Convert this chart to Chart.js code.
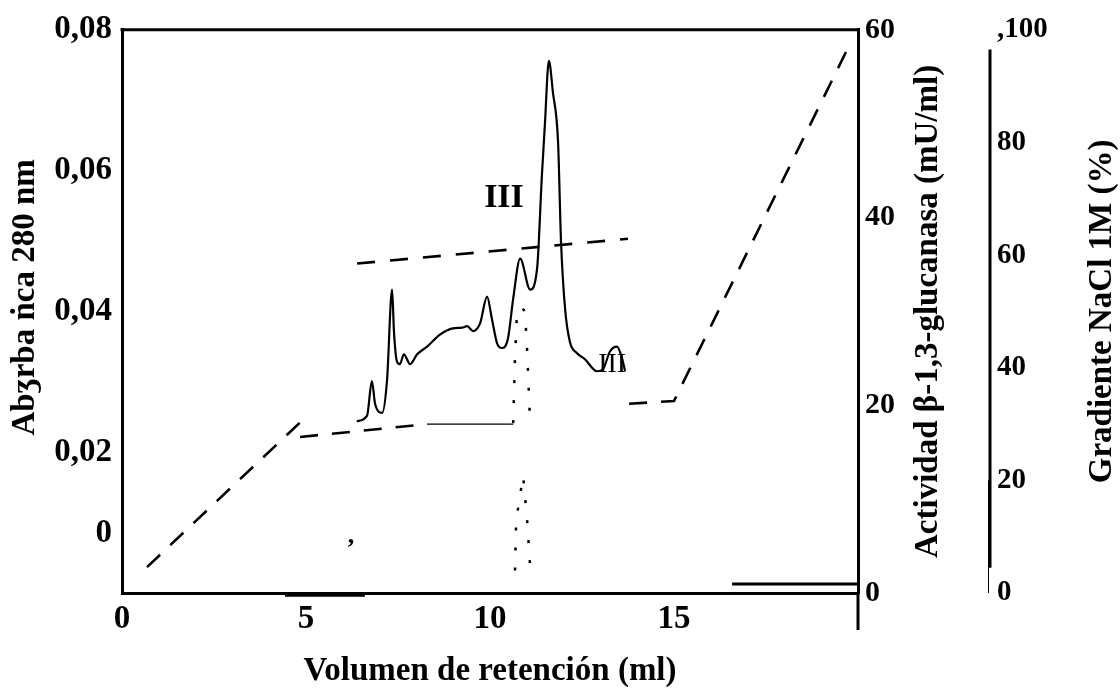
<!DOCTYPE html>
<html>
<head>
<meta charset="utf-8">
<script src="https://cdn.jsdelivr.net/npm/chart.js@4.4.1/dist/chart.umd.min.js"></script>
<style>
  html, body { margin: 0; padding: 0; background: #fff; }
  #wrap { width: 1120px; height: 691px; }
</style>
</head>
<body>
<div id="wrap"><canvas id="c" width="1120" height="691"></canvas></div>
<script>
// ── Absorbancia 280 nm (línea continua) ──
var absX = [6.38, 6.66, 6.79, 6.88, 7.07, 7.20, 7.34, 7.39, 7.47, 7.55, 7.66, 7.83, 8.02, 8.29, 8.64, 8.99, 9.24, 9.38, 9.54, 9.73,
            9.92, 10.05, 10.19, 10.33, 10.49, 10.63, 10.82, 11.09, 11.28, 11.41, 11.49, 11.60, 11.71, 11.85, 11.93, 12.04, 12.17,
            12.36, 12.58, 12.91, 13.07, 13.26, 13.45, 13.59, 13.67];
var absY = [0.0244, 0.0252, 0.0301, 0.0268, 0.0256, 0.0301, 0.0431, 0.0372, 0.0329, 0.0325, 0.0339, 0.0325, 0.0339, 0.0350, 0.0367,
            0.0376, 0.0377, 0.0379, 0.0372, 0.0383, 0.0421, 0.0390, 0.0355, 0.0348, 0.0362, 0.0418, 0.0475, 0.0431, 0.0461, 0.0593,
            0.0664, 0.0756, 0.0711, 0.0640, 0.0499, 0.0404, 0.0357, 0.0341, 0.0332, 0.0315, 0.0318, 0.0343, 0.0350, 0.0333, 0.0315];

// ── Actividad β-1,3-glucanasa (punteada) ──
var actX = [10.68, 10.71, 10.90, 11.01, 11.09, 10.90, 10.63, 10.68, 10.73, 10.84, 10.95, 11.01, 11.09];
var actY = [2.4, 7.7, 12.5, 7.7, 2.8, null, 18.1, 25.2, 29.5, 30.5, 30.0, 25.8, 18.1];

// ── Gradiente NaCl 1M (discontinua) ──
var diagX = [0.68, 4.89];
var diagY = [4.6, 30.6];
var gradX = [4.84, 8.29, 10.63, 12.3, 13.78, 15.0, 19.73];
var gradY = [27.7, 30.0, 30.0, null, 33.6, 34.1, 96.8];
var upperX = [6.39, 13.75];
var upperY = [58.5, 62.9];

// trazos sueltos del original
var trazoX = [16.58, 20, 18, 4.43, 6.6];
var trazoY = [0.95, 0.95, null, -0.25, -0.25];

// ── ejes ──
var xTickVals = [0, 5, 10, 15];
var yTickVals = [0.0085, 0.02, 0.04, 0.06, 0.08];
var yTickLabels = ["0", "0,02", "0,04", "0,06", "0,08"];
var actTickVals = [0, 20, 40, 60];
var gradTickVals = [0, 20, 40, 60, 80, 100];
var gradTickLabels = ["0", "20", "40", "60", "80", ",100"];

function pts(xs, ys) {
  return xs.map(function(x, i) { return { x: x, y: ys[i] }; });
}

var FONT = '"Liberation Serif", "Times New Roman", serif';

var sideTitles = [
  { axis: "y",  text: "Abʒrba ṅca 280 nm",                   dx: 25,  dy: -14 },
  { axis: "y2", text: "Actividad β-1,3-glucanasa (mU/ml)",   dx: 70,  dy: 0 },
  { axis: "y3", text: "Gradiente NaCl 1M (%)",               dx: 112, dy: 0 }
];
var peakLabels = [
  { text: "III", x: 10.38, y: 0.0561, font: "bold 34px " + FONT },
  { text: "III", x: 13.32, y: 0.0324, font: "28px " + FONT },
  { text: ",",   x: 6.22,  y: 0.0080, font: "bold 26px " + FONT }
];

var decoPlugin = {
  id: "deco",
  afterDatasetsDraw: function(chart) {
    var ctx = chart.ctx, a = chart.chartArea, s = chart.scales;
    ctx.save();
    ctx.strokeStyle = "#000";
    ctx.lineWidth = 3;
    // marco superior
    ctx.beginPath(); ctx.moveTo(a.left - 1.5, a.top); ctx.lineTo(a.right + 1.5, a.top); ctx.stroke();
    // prolongación del eje derecho
    ctx.beginPath(); ctx.moveTo(s.y2.left, a.bottom); ctx.lineTo(s.y2.left, a.bottom + 37); ctx.stroke();
    // eje del gradiente
    var gx = s.y3.left;
    ctx.beginPath(); ctx.moveTo(gx, s.y3.getPixelForValue(96.5)); ctx.lineTo(gx, s.y3.getPixelForValue(4.5)); ctx.stroke();
    ctx.lineWidth = 1;
    ctx.beginPath(); ctx.moveTo(gx - 1.5, s.y3.getPixelForValue(20)); ctx.lineTo(gx - 1.5, a.bottom); ctx.stroke();

    ctx.fillStyle = "#000";
    ctx.textAlign = "center";
    ctx.textBaseline = "middle";
    ctx.font = "bold 33px " + FONT;
    sideTitles.forEach(function(t) {
      ctx.save();
      ctx.translate(s[t.axis].left + t.dx, (a.top + a.bottom) / 2 + t.dy);
      ctx.rotate(-Math.PI / 2);
      ctx.fillText(t.text, 0, 0);
      ctx.restore();
    });
    peakLabels.forEach(function(p) {
      ctx.font = p.font;
      ctx.fillText(p.text, s.x.getPixelForValue(p.x), s.y.getPixelForValue(p.y));
    });
    ctx.restore();
  }
};

new Chart(document.getElementById("c"), {
  type: "line",
  data: {
    datasets: [
      { data: pts(absX, absY), yAxisID: "y", borderColor: "#000", borderWidth: 2.2, cubicInterpolationMode: "monotone" },
      { data: pts(diagX, diagY), yAxisID: "y3", borderColor: "#000", borderWidth: 2.6, borderDash: [18, 14] },
      { data: pts(gradX, gradY), yAxisID: "y3", borderColor: "#000", borderWidth: 2.6, borderDash: [18, 14],
        segment: {
          borderDash: function(c) { return (c.p0.parsed.x >= 8.2 && c.p1.parsed.x <= 10.7) ? [] : undefined; },
          borderWidth: function(c) { return (c.p0.parsed.x >= 8.2 && c.p1.parsed.x <= 10.7) ? 1.2 : undefined; }
        } },
      { data: pts(upperX, upperY), yAxisID: "y3", borderColor: "#000", borderWidth: 2.6, borderDash: [18, 15] },
      { data: pts(actX, actY), yAxisID: "y2", borderColor: "#000", borderWidth: 2.5, borderDash: [3, 17] },
      { data: pts(trazoX, trazoY), yAxisID: "y2", borderColor: "#000", borderWidth: 3, clip: false }
    ]
  },
  options: {
    responsive: false,
    animation: false,
    devicePixelRatio: 1,
    spanGaps: false,
    layout: { padding: { top: 27, left: 0, right: 0, bottom: 0 } },
    elements: { point: { radius: 0 }, line: { tension: 0 } },
    plugins: { legend: { display: false }, tooltip: { enabled: false } },
    scales: {
      x: {
        type: "linear", min: 0, max: 20,
        afterBuildTicks: function(sc) { sc.ticks = xTickVals.map(function(v) { return { value: v }; }); },
        afterFit: function(sc) { sc.height = 98; },
        grid: { display: false, drawTicks: false },
        border: { display: true, color: "#000", width: 3 },
        ticks: { color: "#000", padding: 7, font: { family: FONT, size: 33, weight: "bold" } },
        title: { display: true, text: "Volumen de retención (ml)", color: "#000", padding: { top: 0, bottom: 0 },
                 font: { family: FONT, size: 33, weight: "bold" } }
      },
      y: {
        position: "left", min: 0, max: 0.08,
        afterBuildTicks: function(sc) { sc.ticks = yTickVals.map(function(v) { return { value: v }; }); },
        afterFit: function(sc) { sc.width = 122; },
        grid: { display: false, drawTicks: false },
        border: { display: true, color: "#000", width: 3 },
        ticks: { color: "#000", padding: 10, font: { family: FONT, size: 33, weight: "bold" },
                 callback: function(v, i) { return yTickLabels[i]; } }
      },
      y2: {
        position: "right", weight: 0, min: 0, max: 60,
        afterBuildTicks: function(sc) { sc.ticks = actTickVals.map(function(v) { return { value: v }; }); },
        afterFit: function(sc) { sc.width = 132; },
        grid: { display: false, drawTicks: false },
        border: { display: true, color: "#000", width: 3 },
        ticks: { color: "#000", padding: 7, font: { family: FONT, size: 30, weight: "bold" } }
      },
      y3: {
        position: "right", weight: 1, min: 0, max: 100,
        afterBuildTicks: function(sc) { sc.ticks = gradTickVals.map(function(v) { return { value: v }; }); },
        afterFit: function(sc) { sc.width = 130; },
        grid: { display: false, drawTicks: false },
        border: { display: false },
        ticks: { color: "#000", padding: 7, font: { family: FONT, size: 29, weight: "bold" },
                 callback: function(v, i) { return gradTickLabels[i]; } }
      }
    }
  },
  plugins: [decoPlugin]
});
</script>
</body>
</html>
